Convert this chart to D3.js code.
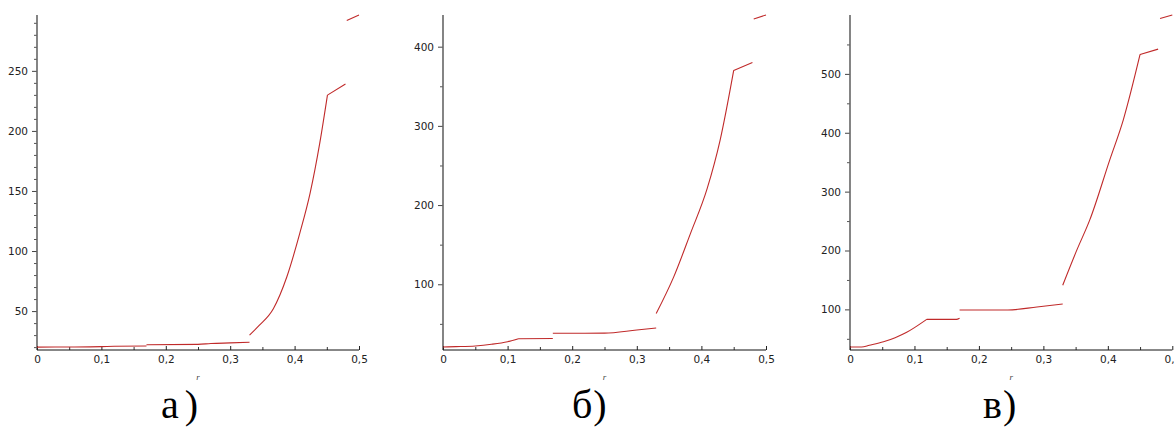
<!DOCTYPE html>
<html>
<head>
<meta charset="utf-8">
<script src="https://cdn.jsdelivr.net/npm/d3@7"></script>
<style>
  html, body { margin: 0; padding: 0; background: #fff; }
  svg { display: block; }
</style>
</head>
<body>
<svg id="chart" width="1174" height="427"></svg>
<script>
// ---- data (null marks a break between curve pieces) ----
const rA = [0, 0.05, 0.1, 0.12, 0.17, null, 0.17, 0.25, 0.27, 0.30, 0.33, null,
  0.33, 0.345, 0.367, 0.388, 0.408, 0.424, 0.439, 0.451, null, 0.451, 0.479, null, 0.481, 0.5];
const vA = [20.0, 20.1, 20.4, 20.7, 20.9, null, 22.0, 22.3, 23.0, 23.5, 24.0, null,
  30, 38, 52, 78.6, 114.7, 148, 189.6, 229.8, null, 229.8, 239, null, 292, 296.5];

const rB = [0, 0.02, 0.05, 0.075, 0.1, 0.117, null, 0.117, 0.17, null, 0.17, 0.2, 0.25, 0.3, 0.33, null,
  0.33, 0.357, 0.383, 0.409, 0.429, 0.45, null, 0.45, 0.479, null, 0.481, 0.5];
const vB = [20.8, 21.2, 22.1, 24.2, 27.5, 31.3, null, 31.3, 31.5, null, 38.1, 38.1, 38.3, 42.3, 44.8, null,
  63, 109, 164, 221, 282, 370, null, 370, 380, null, 435, 440];

const rC = [0, 0.018, 0.03, 0.052, 0.07, 0.088, 0.1, 0.119, null, 0.119, 0.165, 0.17, null, 0.17, 0.245, 0.29, 0.33, null,
  0.33, 0.352, 0.372, 0.403, 0.424, 0.45, null, 0.45, 0.478, null, 0.481, 0.5];
const vC = [36, 36, 39, 45, 52, 61, 69, 83, null, 83, 83, 85, null, 99, 99, 104, 109, null,
  141, 201, 252, 354, 422, 533, null, 533, 542, null, 594, 600];

const yDomainA = [17.6, 296.5];
const yDomainB = [17, 440];
const yDomainC = [31, 600];

const yMajorA = [50, 100, 150, 200, 250];
const yMinorA = [20, 30, 40, 60, 70, 80, 90, 110, 120, 130, 140, 160, 170, 180, 190, 210, 220, 230, 240, 260, 270, 280, 290];
const yMajorB = [100, 200, 300, 400];
const yMinorB = [50, 150, 250, 350];
const yMajorC = [100, 200, 300, 400, 500];
const yMinorC = [50, 150, 250, 350, 450, 550];

const xMajor = [0, 0.1, 0.2, 0.3, 0.4, 0.5];
const xTickLabels = ["0", "0,1", "0,2", "0,3", "0,4", "0,5"];
const xMinor = [0.05, 0.15, 0.25, 0.35, 0.45];

const panelLabels = ["а", "б", "в"];
const axisLabel = "r";

// ---- layout ----
const svg = d3.select("#chart");
const plotTop = 15, plotBottom = 350;
const panels = [
  { r: rA, v: vA, dom: yDomainA, maj: yMajorA, min: yMinorA, x0: 37, x1: 359, lx: 161, ldx: 6 },
  { r: rB, v: vB, dom: yDomainB, maj: yMajorB, min: yMinorB, x0: 443, x1: 766, lx: 572, ldx: 1 },
  { r: rC, v: vC, dom: yDomainC, maj: yMajorC, min: yMinorC, x0: 850, x1: 1172.3, lx: 983, ldx: 1 }
];

const tickFont = "'DejaVu Sans', Verdana, sans-serif";

panels.forEach((p, i) => {
  const x = d3.scaleLinear().domain([0, 0.5]).range([p.x0, p.x1]);
  const y = d3.scaleLinear().domain(p.dom).range([plotBottom, plotTop]);
  const g = svg.append("g");

  // y axis minor ticks
  const yMinorAxis = d3.axisLeft(y).tickValues(p.min).tickSize(3).tickFormat("");
  const gym = g.append("g").attr("transform", `translate(${p.x0},0)`).call(yMinorAxis);
  gym.select(".domain").remove();
  gym.selectAll("line").attr("stroke", "#555");

  // y axis major
  const yAxis = d3.axisLeft(y).tickValues(p.maj).tickSize(5).tickPadding(4).tickFormat(d3.format("d"));
  const gy = g.append("g").attr("transform", `translate(${p.x0},0)`).call(yAxis);
  gy.select(".domain").remove();
  gy.selectAll("line").attr("stroke", "#444");
  gy.selectAll("text").attr("font-family", tickFont).attr("font-size", 10.5).attr("fill", "#222");
  g.append("line").attr("x1", p.x0).attr("x2", p.x0).attr("y1", plotTop).attr("y2", plotBottom)
    .attr("stroke", "#666").attr("stroke-width", 1.6);

  // x axis minor
  const xMinorAxis = d3.axisBottom(x).tickValues(xMinor).tickSize(-3).tickFormat("");
  const gxm = g.append("g").attr("transform", `translate(0,${plotBottom})`).call(xMinorAxis);
  gxm.select(".domain").remove();
  gxm.selectAll("line").attr("stroke", "#333");

  // x axis major
  const xAxis = d3.axisBottom(x).tickValues(xMajor).tickSize(-4).tickPadding(6)
    .tickFormat((d, k) => xTickLabels[k]);
  const gx = g.append("g").attr("transform", `translate(0,${plotBottom})`).call(xAxis);
  gx.select(".domain").attr("stroke", "#111").attr("d", `M${p.x0},0H${p.x1}`);
  gx.selectAll("line").attr("stroke", "#222");
  gx.selectAll("text").attr("font-family", tickFont).attr("font-size", 10.5).attr("fill", "#222");

  // axis label r
  g.append("text").attr("x", x(0.25)).attr("y", 380).attr("text-anchor", "middle")
    .attr("font-family", "'Liberation Serif', serif").attr("font-style", "italic")
    .attr("font-size", 9).attr("fill", "#444").text(axisLabel);

  // curve
  const pts = p.r.map((r, k) => ({ r: r, v: p.v[k] }));
  const line = d3.line().defined(d => d.r != null && d.v != null)
    .curve(d3.curveMonotoneX)
    .x(d => x(d.r)).y(d => y(d.v));
  g.append("path").datum(pts).attr("d", line).attr("fill", "none")
    .attr("stroke", "#c02a2a").attr("stroke-width", 1.1).attr("stroke-linejoin", "round");

  // panel label
  const t = svg.append("text").attr("x", p.lx).attr("y", 418)
    .attr("font-family", "'Liberation Serif', 'Times New Roman', serif")
    .attr("font-size", 40).attr("fill", "#000");
  t.append("tspan").text(panelLabels[i]);
  t.append("tspan").attr("dx", p.ldx).text(")");
});
</script>
</body>
</html>
